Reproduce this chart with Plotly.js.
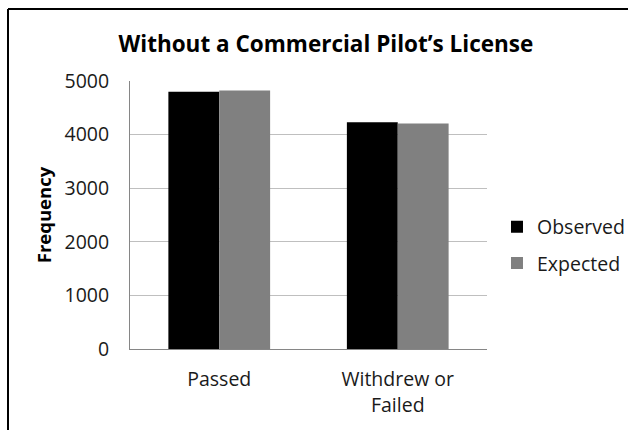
<!DOCTYPE html>
<html><head><meta charset="utf-8">
<script src="https://cdn.plot.ly/plotly-3.0.1.min.js"></script>
<style>body{margin:0;background:#fff}#c{width:628px;height:430px}</style>
</head><body><div id="c"></div>
<script>
const categories = ['Passed', 'Withdrew or<br>Failed'];
const observed = [4800, 4230];
const expected = [4825, 4205];
const yTicks = [0, 1000, 2000, 3000, 4000, 5000];

const font = 'Open Sans, Noto Sans, sans-serif';
const traces = [
  {type:'bar', name:'Observed', x:categories, y:observed, marker:{color:'#000000'}, legendgroup:'a'},
  {type:'bar', name:'Expected', x:categories, y:expected, marker:{color:'#808080'}, legendgroup:'b'}
];
const L=130, R=141, T=81, B=81;
const W=628-L-R, H=430-T-B;
const bx=(8-L)/W, by=(430-B-9)/H;
const layout = {
  width:628, height:430,
  margin:{l:L, r:R, t:T, b:B, autoexpand:false},
  paper_bgcolor:'#ffffff', plot_bgcolor:'#ffffff',
  font:{family:font, size:19, color:'#1a1a1a'},
  title:{text:'<b>Without a Commercial Pilot\u2019s License</b>', font:{family:font, size:22.5, color:'#000'}, x:0.519, xanchor:'center', y:0.897, yanchor:'middle'},
  barmode:'group', bargap:0.43, bargroupgap:0,
  xaxis:{showgrid:false, showline:true, linecolor:'#868686', linewidth:1, ticks:'', tickfont:{size:19.5}, ticklabelstandoff:13, fixedrange:true, automargin:false},
  yaxis:{range:[0,5000], tickvals:yTicks, ticktext:yTicks.map(String), showgrid:true, gridcolor:'#bfbfbf', gridwidth:1, zeroline:false, automargin:false,
         showline:true, linecolor:'#868686', linewidth:1, ticks:'', ticklabelstandoff:16, tickfont:{size:19.5},
         title:{text:'<b>Frequency</b>', font:{size:18.5, color:'#000'}, standoff:8}},
  showlegend:true,
  legend:{x:1.028, xanchor:'left', y:0.388, yanchor:'middle', font:{size:19.5}, tracegroupgap:8, bgcolor:'rgba(0,0,0,0)'},
  shapes:[
    {type:'line', xref:'paper', yref:'paper', x0:bx, x1:bx, y0:-1, y1:by, line:{color:'#000', width:2}},
    {type:'line', xref:'paper', yref:'paper', x0:bx, x1:3, y0:by, y1:by, line:{color:'#000', width:2}}
  ]
};
Plotly.newPlot('c', traces, layout, {displayModeBar:false, staticPlot:true});
</script></body></html>
